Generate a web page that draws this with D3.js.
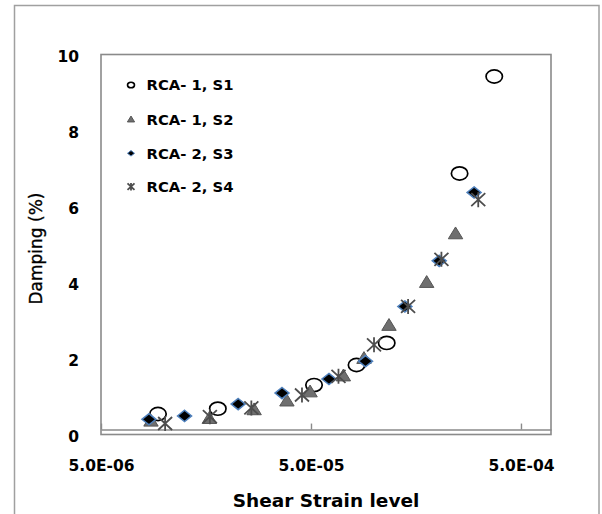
<!DOCTYPE html>
<html><head><meta charset="utf-8">
<script src="https://cdn.jsdelivr.net/npm/d3@7"></script>
<style>body{margin:0;background:#fff}</style></head>
<body><svg id="c" width="602" height="514"></svg>
<script>
// ---- data ----
const seriesNames = ["RCA- 1, S1", "RCA- 1, S2", "RCA- 2, S3", "RCA- 2, S4"];
const s1Strain  = [9.34e-6, 1.80e-5, 5.17e-5, 8.24e-5, 1.147e-4, 2.55e-4, 3.73e-4];
const s1Damping = [0.54, 0.68, 1.30, 1.83, 2.41, 6.87, 9.42];
const s2Strain  = [8.65e-6, 1.64e-5, 2.68e-5, 3.84e-5, 4.95e-5, 7.13e-5, 8.94e-5, 1.176e-4, 1.778e-4, 2.44e-4];
const s2Damping = [0.36, 0.43, 0.66, 0.89, 1.13, 1.55, 2.01, 2.88, 4.01, 5.29];
const s3Strain  = [8.46e-6, 1.25e-5, 2.25e-5, 3.64e-5, 6.09e-5, 9.09e-5, 1.40e-4, 2.04e-4, 2.99e-4];
const s3Damping = [0.40, 0.49, 0.80, 1.09, 1.46, 1.93, 3.37, 4.57, 6.37];
const s4Strain  = [1.01e-5, 1.65e-5, 2.60e-5, 4.53e-5, 6.76e-5, 9.98e-5, 1.45e-4, 2.09e-4, 3.13e-4];
const s4Damping = [0.29, 0.47, 0.70, 1.04, 1.53, 2.36, 3.37, 4.61, 6.18];
const xTickValues = [5e-6, 5e-5, 5e-4];
const xTickLabels = ["5.0E-06", "5.0E-05", "5.0E-04"];
const yTickValues = [0, 2, 4, 6, 8, 10];
const xDomain = [5e-6, 6.95e-4];
const yDomain = [0, 10];
const xAxisCross = 0.13;
const xTitle = "Shear Strain level";
const yTitle = "Damping (%)";

// ---- layout ----
const svg = d3.select("#c");
const P = {l: 101, r: 551, t: 54.5, b: 434.5};
const x = d3.scaleLog().domain(xDomain).range([P.l, P.r]);
const y = d3.scaleLinear().domain(yDomain).range([P.b, P.t]);

svg.append("rect").attr("width", 602).attr("height", 514).attr("fill", "#fff");
// chart area border
svg.append("rect").attr("x", 14.5).attr("y", 5.5).attr("width", 584.5).attr("height", 530)
  .attr("fill", "none").attr("stroke", "#a0a0a0").attr("stroke-width", 1.5);
// plot area border
svg.append("rect").attr("x", P.l).attr("y", P.t).attr("width", P.r - P.l).attr("height", P.b - P.t)
  .attr("fill", "none").attr("stroke", "#8a8a8a").attr("stroke-width", 1.6);

// y axis
const yAx = svg.append("g").attr("transform", `translate(${P.l},0)`)
  .call(d3.axisLeft(y).tickValues(yTickValues).tickSize(0).tickPadding(22).tickFormat(d3.format("d")));
yAx.select(".domain").remove();
yAx.selectAll("text").attr("dy", "0.42em")
  .style("font-family", "'DejaVu Sans'").style("font-weight", "bold").style("font-size", "15.5px").attr("fill", "#000");

// x axis (crosses slightly above 0)
const xAx = svg.append("g").attr("transform", `translate(0,${y(xAxisCross)})`)
  .call(d3.axisBottom(x).tickValues(xTickValues).tickSizeInner(-6).tickSizeOuter(0).tickPadding(30)
    .tickFormat((d, i) => xTickLabels[i]));
xAx.select(".domain").attr("stroke", "#8a8a8a").attr("stroke-width", 1.6);
xAx.selectAll(".tick line").attr("stroke", "#8a8a8a").attr("stroke-width", 1.4);
xAx.selectAll("text").attr("dy", "0.71em")
  .style("font-family", "'DejaVu Sans'").style("font-weight", "bold").style("font-size", "15.5px").attr("fill", "#000");

// titles
svg.append("text").attr("x", 326).attr("y", 507).attr("text-anchor", "middle")
  .style("font-family", "'DejaVu Sans'").style("font-weight", "bold").style("font-size", "18.5px")
  .text(xTitle);
svg.append("text").attr("transform", "translate(42,248.5) rotate(-90)").attr("text-anchor", "middle")
  .style("font-family", "'DejaVu Sans'").style("font-size", "17px").attr("stroke", "#000").attr("stroke-width", 0.35)
  .text(yTitle);

// marker shapes
const shapes = {
  tri: s => `M0,${-6.5*s}L${7.2*s},${5.3*s}L${-7.2*s},${5.3*s}Z`,
  dia: s => `M0,${-5.6*s}L${7*s},0L0,${5.6*s}L${-7*s},0Z`,
  star: s => `M${-7*s},${-6.5*s}L${7*s},${6.5*s}M${-7*s},${6.5*s}L${7*s},${-6.5*s}M0,${-7.5*s}L0,${7.5*s}`
};
function drawCircle(g, s) {
  return g.append("ellipse").attr("rx", 8.2*s).attr("ry", 6.6*s)
    .attr("fill", "none").attr("stroke", "#000").attr("stroke-width", 1.7);
}
function drawTri(g, s) {
  return g.append("path").attr("d", shapes.tri(s)).attr("fill", "#6f6f6f").attr("stroke", "#555").attr("stroke-width", 1);
}
function drawDia(g, s) {
  return g.append("path").attr("d", shapes.dia(s)).attr("fill", "#000").attr("stroke", "#4f81bd").attr("stroke-width", s < 1 ? 1 : 1.5);
}
function drawStar(g, s) {
  return g.append("path").attr("d", shapes.star(s)).attr("fill", "none").attr("stroke", "#4d4d4d").attr("stroke-width", 1.8);
}
const series = [
  {xs: s1Strain, ys: s1Damping, draw: drawCircle},
  {xs: s2Strain, ys: s2Damping, draw: drawTri},
  {xs: s3Strain, ys: s3Damping, draw: drawDia},
  {xs: s4Strain, ys: s4Damping, draw: drawStar}
];
series.forEach(sr => {
  const pts = sr.xs.map((v, i) => [v, sr.ys[i]]);
  const g = svg.append("g");
  g.selectAll("g").data(pts).join("g")
    .attr("transform", d => `translate(${x(d[0])},${y(d[1])})`)
    .each(function () { sr.draw(d3.select(this), 1); });
});

// legend
const legY = [85, 119.3, 153.3, 186.7];
const leg = svg.append("g");
series.forEach((sr, i) => {
  const g = leg.append("g").attr("transform", `translate(131,${legY[i]})`);
  sr.draw(g, i === 0 ? 0.42 : 0.5);
  leg.append("text").attr("x", 146.5).attr("y", legY[i]).attr("dy", "0.36em")
    .style("font-family", "'DejaVu Sans'").style("font-weight", "bold").style("font-size", "14.8px")
    .text(seriesNames[i]);
});
</script></body></html>
